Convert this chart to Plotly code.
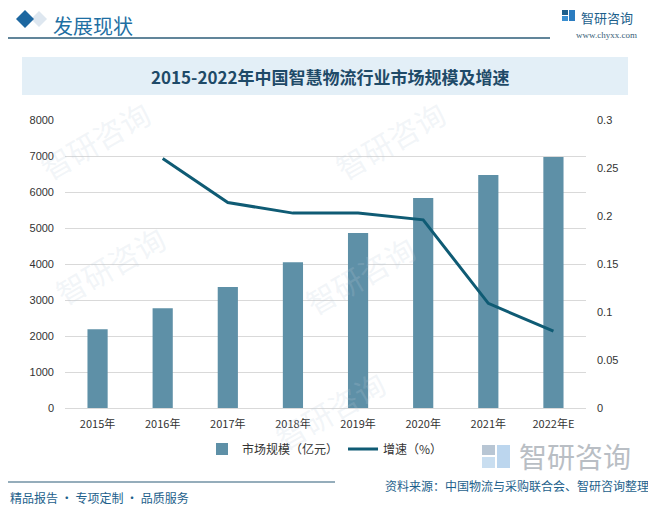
import plotly.graph_objects as go

years = ["2015年", "2016年", "2017年", "2018年", "2019年", "2020年", "2021年", "2022年E"]
market_size = [2190, 2770, 3360, 4050, 4860, 5830, 6470, 6970]  # 亿元
growth_years = ["2016年", "2017年", "2018年", "2019年", "2020年", "2021年", "2022年E"]
growth_rate = [0.260, 0.214, 0.203, 0.203, 0.196, 0.109, 0.080]

left_ticks = [0, 1000, 2000, 3000, 4000, 5000, 6000, 7000, 8000]
right_ticks = [0, 0.05, 0.1, 0.15, 0.2, 0.25, 0.3]
right_labels = ["0", "0.05", "0.1", "0.15", "0.2", "0.25", "0.3"]

CJK = "Noto Sans CJK SC"
BAR_COLOR = "#5e90a7"
LINE_COLOR = "#0f5b74"
DARK_BLUE = "#1d5f8c"

# the page body has an 8px margin, so the figure is drawn 8px smaller
OFF = 8
W, H = 656 - OFF, 507 - OFF
ML, MR, MT, MB = 65 - OFF, 656 - 586, 120 - OFF, 507 - 408
PW, PH = W - ML - MR, H - MT - MB


# positions below are in reference-picture pixels
def px(x):
    return (x - OFF - ML) / PW


def py(y):
    return (H - MB - (y - OFF)) / PH


fig = go.Figure()

fig.add_trace(go.Bar(
    x=years, y=market_size,
    name="市场规模（亿元）",
    marker=dict(color=BAR_COLOR, line=dict(width=0)),
    width=0.31,
    yaxis="y",
))

fig.add_trace(go.Scatter(
    x=growth_years, y=growth_rate,
    name="增速（%）",
    mode="lines",
    line=dict(color=LINE_COLOR, width=3),
    yaxis="y2",
))

shapes = []
annotations = []

# faint watermarks behind the chart
for wx, wy in [(95, 140), (110, 265), (390, 140), (360, 275), (330, 410)]:
    annotations.append(dict(
        xref="paper", yref="paper", x=px(wx), y=py(wy),
        xanchor="center", yanchor="middle",
        text="智研咨询", showarrow=False, textangle=-30,
        font=dict(family=CJK, size=30, color="rgba(190,205,220,0.2)"),
    ))

# header
shapes.append(dict(type="path", xref="paper", yref="paper",
                   path="M {} {} L {} {} L {} {} L {} {} Z".format(
                       px(31), py(19), px(39), py(11), px(47), py(19), px(39), py(27)),
                   fillcolor="rgba(200,215,230,0.6)", line=dict(width=0)))
shapes.append(dict(type="path", xref="paper", yref="paper",
                   path="M {} {} L {} {} L {} {} L {} {} Z".format(
                       px(16), py(19), px(25), py(10), px(34), py(19), px(25), py(28)),
                   fillcolor="#1d67a0", line=dict(width=0)))
annotations.append(dict(xref="paper", yref="paper", x=px(51), y=py(8.5),
                        xanchor="left", yanchor="top", showarrow=False,
                        text="发展现状",
                        font=dict(family=CJK, size=20, color="#1e6fa3")))
shapes.append(dict(type="line", xref="paper", yref="paper",
                   x0=px(8), x1=px(550), y0=py(38), y1=py(38),
                   line=dict(color="#2d5c78", width=1.5)))

# top-right logo
shapes.append(dict(type="rect", xref="paper", yref="paper",
                   x0=px(562), x1=px(568), y0=py(10), y1=py(15),
                   fillcolor="#1d5f8c", line=dict(width=0)))
shapes.append(dict(type="rect", xref="paper", yref="paper",
                   x0=px(562), x1=px(568), y0=py(16), y1=py(21),
                   fillcolor="#3a8fd0", line=dict(width=0)))
shapes.append(dict(type="rect", xref="paper", yref="paper",
                   x0=px(569), x1=px(575), y0=py(10), y1=py(21),
                   fillcolor="#2b7cc0", line=dict(width=0)))
annotations.append(dict(xref="paper", yref="paper", x=px(579), y=py(17),
                        xanchor="left", yanchor="middle", showarrow=False,
                        text="智研咨询",
                        font=dict(family=CJK, size=13, color="#1d5f8c")))
annotations.append(dict(xref="paper", yref="paper", x=px(639), y=py(35),
                        xanchor="right", yanchor="middle", showarrow=False,
                        text="www.chyxx.com",
                        font=dict(family="Liberation Serif", size=9, color="#3a5f78")))

# title box
shapes.append(dict(type="rect", xref="paper", yref="paper",
                   x0=px(22), x1=px(628), y0=py(57), y1=py(95),
                   fillcolor="#e3eff7", line=dict(width=0), layer="below"))
annotations.append(dict(xref="paper", yref="paper", x=px(330), y=py(76),
                        xanchor="center", yanchor="middle", showarrow=False,
                        text="<b>2015-2022年中国智慧物流行业市场规模及增速</b>",
                        font=dict(family=CJK, size=17, color="#1e4a68")))

# bottom-right logo watermark
shapes.append(dict(type="rect", xref="paper", yref="paper",
                   x0=px(482), x1=px(495), y0=py(445), y1=py(455),
                   fillcolor="#b8c6d4", line=dict(width=0)))
shapes.append(dict(type="rect", xref="paper", yref="paper",
                   x0=px(482), x1=px(495), y0=py(457), y1=py(468),
                   fillcolor="#c9def0", line=dict(width=0)))
shapes.append(dict(type="rect", xref="paper", yref="paper",
                   x0=px(497), x1=px(510), y0=py(445), y1=py(468),
                   fillcolor="#bcd6ee", line=dict(width=0)))
annotations.append(dict(xref="paper", yref="paper", x=px(517), y=py(456),
                        xanchor="left", yanchor="middle", showarrow=False,
                        text="智研咨询",
                        font=dict(family=CJK, size=28, color="#b9bec4")))

# footer
shapes.append(dict(type="line", xref="paper", yref="paper",
                   x0=px(8), x1=px(335), y0=py(482), y1=py(482),
                   line=dict(color="#2d5c78", width=1.2)))
annotations.append(dict(xref="paper", yref="paper", x=px(8), y=py(497),
                        xanchor="left", yanchor="middle", showarrow=False,
                        text="精品报告 · 专项定制 · 品质服务",
                        font=dict(family=CJK, size=12, color="#1d5f8c")))
annotations.append(dict(xref="paper", yref="paper", x=px(651), y=py(485),
                        xanchor="right", yanchor="middle", showarrow=False,
                        text="资料来源：中国物流与采购联合会、智研咨询整理",
                        font=dict(family=CJK, size=12, color=DARK_BLUE)))

fig.update_layout(
    width=W, height=H,
    autosize=False,
    margin=dict(l=ML, r=MR, t=MT, b=MB, pad=0),
    paper_bgcolor="white",
    plot_bgcolor="white",
    xaxis=dict(
        type="category",
        categoryorder="array", categoryarray=years,
        showgrid=False, showline=True, linecolor="#d9d9d9", linewidth=1,
        ticks="", tickfont=dict(family=CJK, size=11, color="#333333"),
        ticklabelstandoff=6,
    ),
    yaxis=dict(
        range=[0, 8000], tickvals=left_ticks,
        showgrid=True, gridcolor="#d9d9d9", gridwidth=1,
        zeroline=False, showline=False, ticks="",
        tickfont=dict(family="Liberation Sans", size=11, color="#333333"),
        ticklabelstandoff=10,
    ),
    yaxis2=dict(
        range=[0, 0.3], tickvals=right_ticks, ticktext=right_labels,
        overlaying="y", side="right",
        showgrid=False, zeroline=False, showline=False, ticks="",
        tickfont=dict(family="Liberation Sans", size=11, color="#333333"),
        ticklabelstandoff=10,
    ),
    legend=dict(
        orientation="h",
        x=px(325), xanchor="center",
        y=py(449), yanchor="middle",
        font=dict(family=CJK, size=12, color="#333333"),
        bgcolor="rgba(0,0,0,0)",
        itemwidth=30,
    ),
    showlegend=True,
    shapes=shapes,
    annotations=annotations,
)

fig.write_html("out.html")
